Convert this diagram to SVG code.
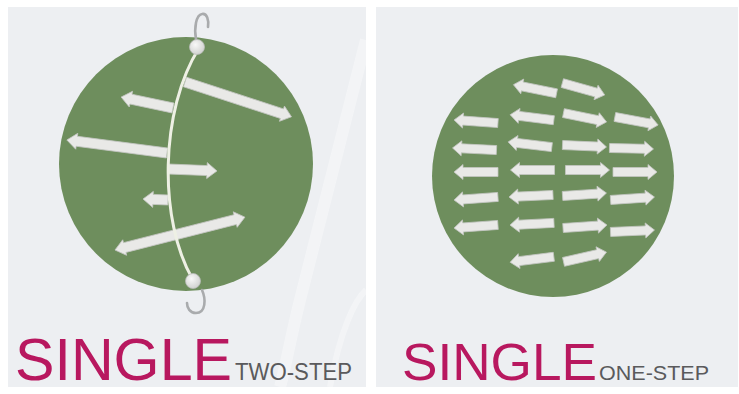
<svg xmlns="http://www.w3.org/2000/svg" xmlns:xlink="http://www.w3.org/1999/xlink" width="739" height="394" viewBox="0 0 739 394">
<style>
.panel{fill:#edeff2}
.disc{fill:#6e8e5d}
.arw{fill:#e9e9e7;stroke:#c4c6c2;stroke-width:0.8;stroke-linejoin:round}
.curve{fill:none;stroke:#eef0e4;stroke-width:3}
.hook{fill:none;stroke:#a9abad;stroke-width:2.6;stroke-linecap:round}
.ball{fill:url(#bg);stroke:#b9bbb9;stroke-width:0.8}
.big{font-family:"Liberation Sans",Arial,sans-serif;fill:#b8185f}
.small{font-family:"Liberation Sans",Arial,sans-serif;fill:#5a5a5c}
.streak{fill:none;stroke:#ffffff;stroke-opacity:0.35}
</style>
<defs>
<radialGradient id="bg" cx="0.4" cy="0.35" r="0.7">
<stop offset="0" stop-color="#f8f8f8"/>
<stop offset="1" stop-color="#cfd0ce"/>
</radialGradient>
<path id="ra" class="arw" d="M-22,-4.5 H13 V-7.5 L22,0 L13,7.5 V4.5 H-22 Z"/>
</defs>
<rect x="0" y="0" width="739" height="394" fill="#ffffff"/>

<g id="panel-two-step">
<rect class="panel" x="8" y="7" width="358" height="380"/>
<path class="streak" stroke-width="12" d="M366,40 C345,120 325,200 300,300 C290,340 285,370 280,387"/>
<path class="streak" stroke-width="6" d="M330,387 C340,330 355,300 366,290"/>
<circle class="disc" cx="186" cy="164" r="127"/>
<g id="arrows-two-step">
<path class="arw" transform="translate(173,108) rotate(191.9)" d="M0,-5 H43 V-8 L53,0 L43,8 V5 H0 Z"/>
<path class="arw" transform="translate(185,82) rotate(18.1)" d="M0,-5 H102 V-8 L112,0 L102,8 V5 H0 Z"/>
<path class="arw" transform="translate(167,153) rotate(187.4)" d="M0,-5 H91 V-8 L101,0 L91,8 V5 H0 Z"/>
<path class="arw" transform="translate(168,169) rotate(2.3)" d="M0,-5 H39 V-8 L49,0 L39,8 V5 H0 Z"/>
<path class="arw" transform="translate(168,200) rotate(182.3)" d="M0,-5 H15 V-8 L25,0 L15,8 V5 H0 Z"/>
<path class="arw" transform="translate(115,250) rotate(-14.2)" d="M0,0 L10,-8 V-5 H124 V-8 L134,0 L124,8 V5 H10 V8 Z"/>
</g>
<path class="curve" d="M199,48 C160,110 158,220 193,280"/>
<path class="hook" d="M196,39 C194,28 196,15 202,14 C207,13 209,20 208,27"/>
<path class="hook" d="M202,290 C206,299 206,313 196,313 C190,313 187,308 187,303"/>
<circle class="ball" cx="197" cy="47" r="7.5"/>
<circle class="ball" cx="193" cy="281" r="7.5"/>
<text class="big" x="15" y="380" font-size="59" textLength="217" lengthAdjust="spacingAndGlyphs">SINGLE</text>
<text class="small" x="235" y="380" font-size="23" textLength="117" lengthAdjust="spacingAndGlyphs">TWO-STEP</text>
</g>

<g id="panel-one-step">
<rect class="panel" x="376" y="7" width="362" height="380"/>
<circle class="disc" cx="553" cy="176" r="121"/>
<g id="arrows-one-step">
<use href="#ra" transform="translate(535,89) rotate(191.3)"/>
<use href="#ra" transform="translate(583.5,89) rotate(15.6)"/>
<use href="#ra" transform="translate(476,121.5) rotate(184.1)"/>
<use href="#ra" transform="translate(532,117.5) rotate(187.1)"/>
<use href="#ra" transform="translate(585,117.5) rotate(11.6)"/>
<use href="#ra" transform="translate(636.5,121) rotate(10.5)"/>
<use href="#ra" transform="translate(474.5,149) rotate(182.8)"/>
<use href="#ra" transform="translate(530,144.5) rotate(186.8)"/>
<use href="#ra" transform="translate(584.5,146) rotate(2.5)"/>
<use href="#ra" transform="translate(631.5,148.5) rotate(1.3)"/>
<use href="#ra" transform="translate(476,172) rotate(180)"/>
<use href="#ra" transform="translate(532.5,170) rotate(180)"/>
<use href="#ra" transform="translate(587.5,170)"/>
<use href="#ra" transform="translate(635,172)"/>
<use href="#ra" transform="translate(476,198.5) rotate(175.9)"/>
<use href="#ra" transform="translate(531,196) rotate(177.3)"/>
<use href="#ra" transform="translate(584.5,194.5) rotate(-3.8)"/>
<use href="#ra" transform="translate(632.5,198.5) rotate(-3.8)"/>
<use href="#ra" transform="translate(476,226.5) rotate(175.9)"/>
<use href="#ra" transform="translate(532,224) rotate(177.1)"/>
<use href="#ra" transform="translate(585,226.5) rotate(-3.9)"/>
<use href="#ra" transform="translate(632.5,231) rotate(-2.5)"/>
<use href="#ra" transform="translate(532,259.5) rotate(172.9)"/>
<use href="#ra" transform="translate(585,257) rotate(-12.8)"/>
</g>
<text class="big" x="402" y="380" font-size="52" textLength="195" lengthAdjust="spacingAndGlyphs">SINGLE</text>
<text class="small" x="599" y="380" font-size="21" textLength="110" lengthAdjust="spacingAndGlyphs">ONE-STEP</text>
</g>
</svg>
